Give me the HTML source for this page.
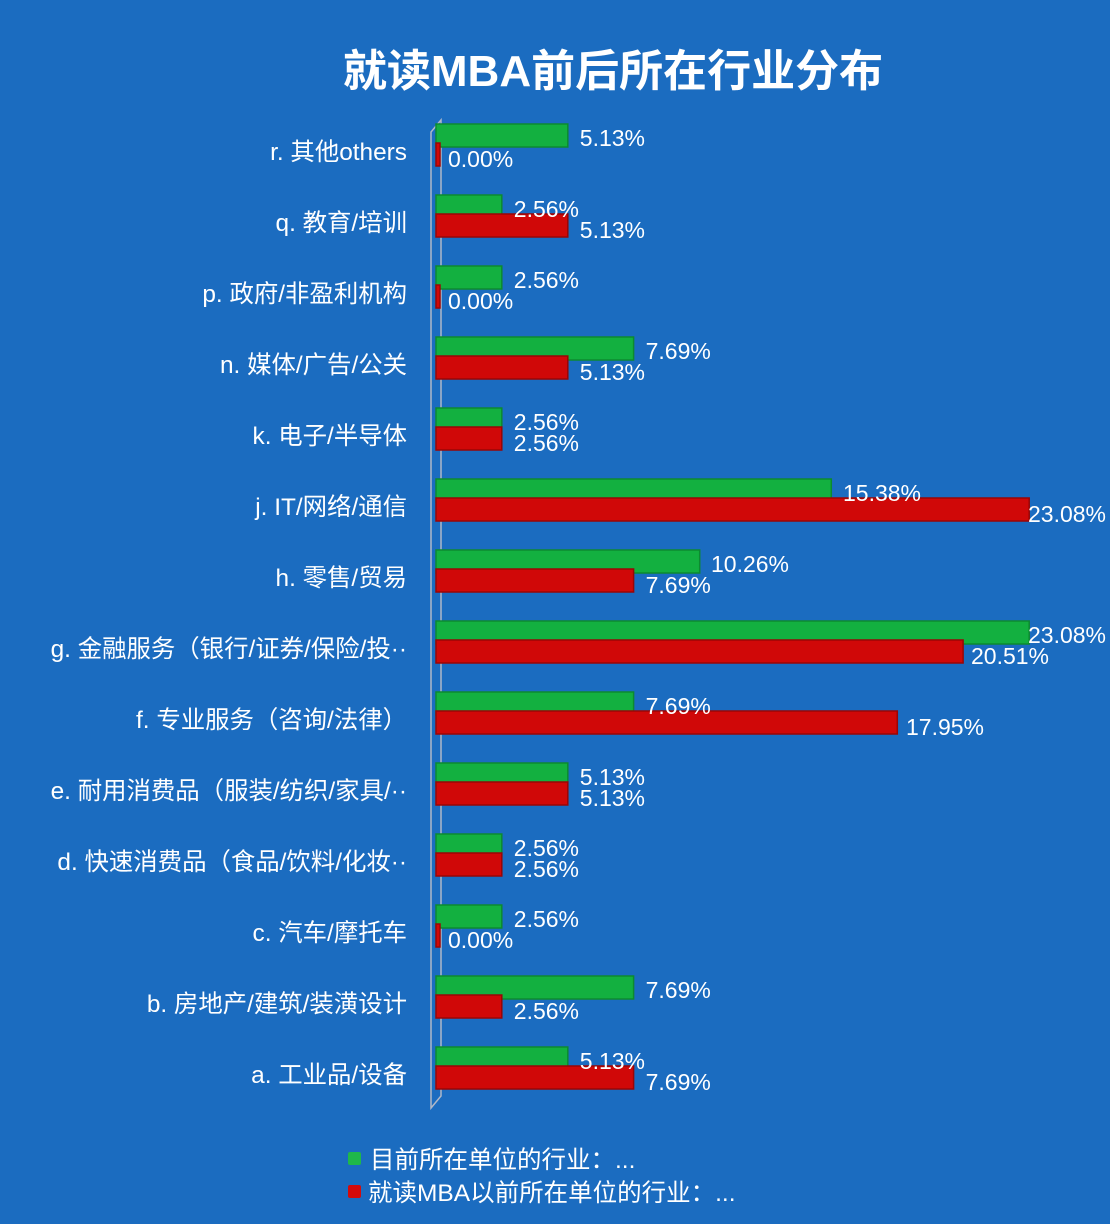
<!DOCTYPE html>
<html><head><meta charset="utf-8"><style>
html,body{margin:0;padding:0;background:#1b6cc0;}
svg{display:block}
text{font-family:"Liberation Sans","Noto Sans CJK SC",sans-serif;fill:#fff;}
.c{font-size:24.4px;text-anchor:end}
.v{font-size:23px}
.g{fill:#13b040;stroke:#0c8a30;stroke-width:1.5}
.r{fill:#d00808;stroke:#9a0505;stroke-width:1.5}
</style></head><body>
<svg width="1110" height="1224" viewBox="0 0 1110 1224" xmlns="http://www.w3.org/2000/svg">
<rect width="1110" height="1224" fill="#1b6cc0"/>
<text x="613" y="86" font-size="44" font-weight="bold" text-anchor="middle">就读MBA前后所在行业分布</text>
<path d="M431 1108 L431 132 L441 120 L441 1096 Z" fill="none" stroke="#b0b8c8" stroke-width="1.5"/>

<g transform="translate(0,151)"><text class="c" x="407" y="9">r. 其他others</text>
<rect class="g" x="436" y="-27" width="131.8" height="23"/><rect class="r" x="436" y="-8" width="4" height="23"/>
<text class="v" x="579.8" y="-5">5.13%</text><text class="v" x="448" y="16">0.00%</text></g>

<g transform="translate(0,222)"><text class="c" x="407" y="9">q. 教育/培训</text>
<rect class="g" x="436" y="-27" width="65.8" height="23"/><rect class="r" x="436" y="-8" width="131.8" height="23"/>
<text class="v" x="513.8" y="-5">2.56%</text><text class="v" x="579.8" y="16">5.13%</text></g>

<g transform="translate(0,293)"><text class="c" x="407" y="9">p. 政府/非盈利机构</text>
<rect class="g" x="436" y="-27" width="65.8" height="23"/><rect class="r" x="436" y="-8" width="4" height="23"/>
<text class="v" x="513.8" y="-5">2.56%</text><text class="v" x="448" y="16">0.00%</text></g>

<g transform="translate(0,364)"><text class="c" x="407" y="9">n. 媒体/广告/公关</text>
<rect class="g" x="436" y="-27" width="197.6" height="23"/><rect class="r" x="436" y="-8" width="131.8" height="23"/>
<text class="v" x="645.6" y="-5">7.69%</text><text class="v" x="579.8" y="16">5.13%</text></g>

<g transform="translate(0,435)"><text class="c" x="407" y="9">k. 电子/半导体</text>
<rect class="g" x="436" y="-27" width="65.8" height="23"/><rect class="r" x="436" y="-8" width="65.8" height="23"/>
<text class="v" x="513.8" y="-5">2.56%</text><text class="v" x="513.8" y="16">2.56%</text></g>

<g transform="translate(0,506)"><text class="c" x="407" y="9">j. IT/网络/通信</text>
<rect class="g" x="436" y="-27" width="395.3" height="23"/><rect class="r" x="436" y="-8" width="593.2" height="23"/>
<text class="v" x="843" y="-5">15.38%</text><text class="v" x="1028" y="16">23.08%</text></g>

<g transform="translate(0,577)"><text class="c" x="407" y="9">h. 零售/贸易</text>
<rect class="g" x="436" y="-27" width="263.7" height="23"/><rect class="r" x="436" y="-8" width="197.6" height="23"/>
<text class="v" x="711" y="-5">10.26%</text><text class="v" x="645.6" y="16">7.69%</text></g>

<g transform="translate(0,648)"><text class="c" x="407" y="9">g. 金融服务（银行/证券/保险/投··</text>
<rect class="g" x="436" y="-27" width="593.2" height="23"/><rect class="r" x="436" y="-8" width="527.1" height="23"/>
<text class="v" x="1028" y="-5">23.08%</text><text class="v" x="971" y="16">20.51%</text></g>

<g transform="translate(0,719)"><text class="c" x="407" y="9">f. 专业服务（咨询/法律）</text>
<rect class="g" x="436" y="-27" width="197.6" height="23"/><rect class="r" x="436" y="-8" width="461.3" height="23"/>
<text class="v" x="645.6" y="-5">7.69%</text><text class="v" x="906" y="16">17.95%</text></g>

<g transform="translate(0,790)"><text class="c" x="407" y="9">e. 耐用消费品（服装/纺织/家具/··</text>
<rect class="g" x="436" y="-27" width="131.8" height="23"/><rect class="r" x="436" y="-8" width="131.8" height="23"/>
<text class="v" x="579.8" y="-5">5.13%</text><text class="v" x="579.8" y="16">5.13%</text></g>

<g transform="translate(0,861)"><text class="c" x="407" y="9">d. 快速消费品（食品/饮料/化妆··</text>
<rect class="g" x="436" y="-27" width="65.8" height="23"/><rect class="r" x="436" y="-8" width="65.8" height="23"/>
<text class="v" x="513.8" y="-5">2.56%</text><text class="v" x="513.8" y="16">2.56%</text></g>

<g transform="translate(0,932)"><text class="c" x="407" y="9">c. 汽车/摩托车</text>
<rect class="g" x="436" y="-27" width="65.8" height="23"/><rect class="r" x="436" y="-8" width="4" height="23"/>
<text class="v" x="513.8" y="-5">2.56%</text><text class="v" x="448" y="16">0.00%</text></g>

<g transform="translate(0,1003)"><text class="c" x="407" y="9">b. 房地产/建筑/装潢设计</text>
<rect class="g" x="436" y="-27" width="197.6" height="23"/><rect class="r" x="436" y="-8" width="65.8" height="23"/>
<text class="v" x="645.6" y="-5">7.69%</text><text class="v" x="513.8" y="16">2.56%</text></g>

<g transform="translate(0,1074)"><text class="c" x="407" y="9">a. 工业品/设备</text>
<rect class="g" x="436" y="-27" width="131.8" height="23"/><rect class="r" x="436" y="-8" width="197.6" height="23"/>
<text class="v" x="579.8" y="-5">5.13%</text><text class="v" x="645.6" y="16">7.69%</text></g>

<rect x="348" y="1152" width="13" height="13" rx="2" fill="#1fb84a"/>
<text x="370" y="1168" font-size="24.5">目前所在单位的行业：...</text>
<rect x="348" y="1185" width="13" height="13" rx="2" fill="#d40a0a"/>
<text x="368" y="1201" font-size="24.5">就读MBA以前所在单位的行业：...</text>
</svg>
</body></html>
